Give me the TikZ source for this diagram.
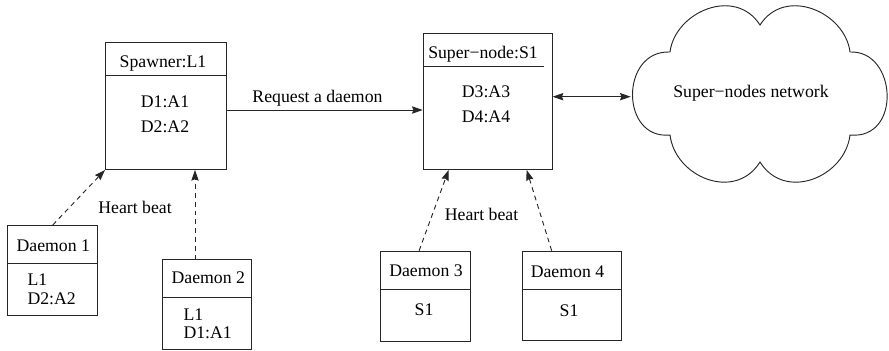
\documentclass[tikz,border=0pt]{standalone}
\usepackage{fontspec}
\setmainfont{Liberation Serif}
\usetikzlibrary{arrows.meta,calc}
\begin{document}
\begin{tikzpicture}[x=0.75pt,y=-0.75pt,
  every node/.style={font=\fontsize{13.3}{16}\selectfont},
  ln/.style={line width=0.7pt, draw=black!85},
  box/.style={ln, draw, inner sep=0, anchor=north west},
  txt/.style={inner sep=0, text height=8.8pt, text depth=0pt},
  head/.tip={Stealth[length=8pt,width=5.5pt,inset=1pt]},
  tip/.style={-head},
  hb/.style={ln, tip, dash pattern=on 3.6pt off 3pt}]
\useasboundingbox (0,0) rectangle (889,350);

% spawner
\node[box, minimum width=90.75pt, minimum height=95.5pt] (spawner) at (105,41.7) {};
\draw[ln] ($(spawner.north west)+(0,33.3)$) -- ($(spawner.north east)+(0,33.3)$);
\node[txt] (spt) at (163,62) {Spawner:L1};
\node[txt] (sp1) at (165,101.7) {D1:A1};
\node[txt] (sp2) at (165,126.7) {D2:A2};

% super-node
\node[box, minimum width=96.75pt, minimum height=102.2pt] (super) at (422.7,32.7) {};
\draw[ln] ($(super.north west)+(0,34)$) -- ($(super.north east)+(-9,34)$);
\node[txt] (sut) at (483,53) {Super−node:S1};
\node[txt] (su1) at (486,91.7) {D3:A3};
\node[txt] (su2) at (486,116.7) {D4:A4};

% daemons
\node[box, minimum width=67.5pt, minimum height=67.5pt] (d1) at (7.3,225) {};
\draw[ln] ($(d1.north west)+(0,38.3)$) -- ($(d1.north east)+(0,38.3)$);
\node[txt] (d1t) at (53.3,246) {Daemon 1};
\node[txt, anchor=west] (d1a) at (27.3,280) {L1};
\node[txt, anchor=west] (d1b) at (27.3,298.3) {D2:A2};

\node[box, minimum width=66.3pt, minimum height=67.3pt] (d2) at (162.3,259.3) {};
\draw[ln] ($(d2.north west)+(0,38)$) -- ($(d2.north east)+(0,38)$);
\node[txt] (d2t) at (208.3,278) {Daemon 2};
\node[txt, anchor=west] (d2a) at (183.3,314.3) {L1};
\node[txt, anchor=west] (d2b) at (183.3,333) {D1:A1};

\node[box, minimum width=67.5pt, minimum height=67.7pt] (d3) at (380,250.7) {};
\draw[ln] ($(d3.north west)+(0,38.6)$) -- ($(d3.north east)+(0,38.6)$);
\node[txt] (d3t) at (426,271) {Daemon 3};
\node[txt] (d3a) at (424,310) {S1};

\node[box, minimum width=74.25pt, minimum height=67pt] (d4) at (521.7,250.7) {};
\draw[ln] ($(d4.north west)+(0,38.6)$) -- ($(d4.north east)+(0,38.6)$);
\node[txt] (d4t) at (567.5,272) {Daemon 4};
\node[txt] (d4a) at (569,311) {S1};

% network cloud
\draw[ln] (670,52) .. controls (675,12) and (735,-14) .. (760,25)
  .. controls (785,-14) and (845,12) .. (850,52)
  .. controls (897,50) and (902,140) .. (850,135)
  .. controls (845,177) and (785,202) .. (760,162)
  .. controls (735,202) and (675,177) .. (670,135)
  .. controls (620,140) and (620,50) .. (670,52) -- cycle;
\node[txt] (net) at (751,91.7) {Super−nodes network};
\coordinate (netw) at (630.7,96.7);

% connectors
\coordinate (req) at (0,110);
\draw[ln, tip] (spawner.east |- req) -- (super.west |- req)
  node[txt, midway, above=5.5pt, xshift=-5.5pt] (reql) {Request a daemon};
\draw[ln, head-head] (super.east |- netw) -- (netw);

\draw[hb] (d1.north) -- (spawner.south west);
\coordinate (h2) at (195,0);
\draw[hb] (d2.north -| h2) -- (spawner.south -| h2);
\node[txt] (hb1) at (135,207.7) {Heart beat};

\draw[hb] ($(d3.north west)!0.43!(d3.north east)$) -- ($(super.south west)!0.2!(super.south east)$);
\draw[hb] ($(d4.north west)!0.3!(d4.north east)$) -- ($(super.south west)!0.8!(super.south east)$);
\node[txt] (hb2) at (481.5,215) {Heart beat};
\end{tikzpicture}
\end{document}
